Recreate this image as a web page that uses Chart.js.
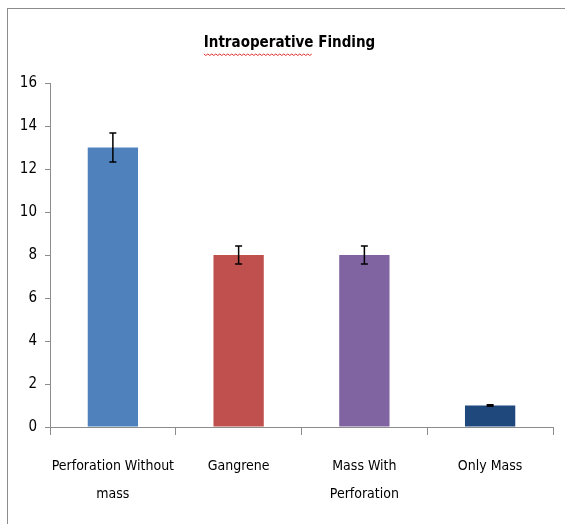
<!DOCTYPE html>
<html>
<head>
  <title>Intraoperative Finding</title>
  <script src="https://cdn.jsdelivr.net/npm/chart.js"></script>
  <style>
    html, body { margin: 0; padding: 0; background: #fff; overflow: hidden; }
    .frame { position: absolute; left: 7px; top: 8px; width: 600px; height: 600px;
             border-left: 1px solid #8c8c8c; border-top: 1px solid #8c8c8c; }
    .chart-box { position: absolute; left: 0; top: 0; width: 565px; height: 524px; }
  </style>
</head>
<body>
  <div class="frame"></div>
  <div class="chart-box">
    <canvas id="findingChart" width="565" height="524"></canvas>
  </div>
  <script>
    // data
    const categories = [['Perforation Without', 'mass'], 'Gangrene', ['Mass With', 'Perforation'], 'Only Mass'];
    const counts = [13, 8, 8, 1];
    const errors = [0.68, 0.42, 0.42, 0.04];
    const barColors = ['#4F81BD', '#C0504D', '#8064A2', '#1F497D'];
    const yTicks = [0, 2, 4, 6, 8, 10, 12, 14, 16];
    const titleText = 'Intraoperative Finding';

    const fontFamily = '"Liberation Sans Narrow", "DejaVu Sans Condensed", sans-serif';
    const titleFont = { family: fontFamily, size: 15, weight: 'bold', lineHeight: 1.2 };

    // simple error bar drawing
    const errorBars = {
      id: 'errorBars',
      afterDatasetsDraw(chart) {
        const ctx = chart.ctx;
        const y = chart.scales.y;
        const meta = chart.getDatasetMeta(0);
        ctx.save();
        ctx.strokeStyle = '#000';
        ctx.lineWidth = 1.5;
        meta.data.forEach((bar, i) => {
          const top = y.getPixelForValue(counts[i] + errors[i]);
          const bot = y.getPixelForValue(counts[i] - errors[i]);
          ctx.beginPath();
          ctx.moveTo(bar.x, top);
          ctx.lineTo(bar.x, bot);
          ctx.moveTo(bar.x - 3.5, top);
          ctx.lineTo(bar.x + 3.5, top);
          ctx.moveTo(bar.x - 3.5, bot);
          ctx.lineTo(bar.x + 3.5, bot);
          ctx.stroke();
        });
        ctx.restore();
      }
    };

    // title sits a bit right of the canvas centre in the original
    const titleShift = {
      id: 'titleShift',
      afterLayout(chart) {
        if (chart.titleBlock) chart.titleBlock.left += 26;
      }
    };

    // red spell-check squiggle under the first word of the title
    const squiggle = {
      id: 'squiggle',
      afterDraw(chart) {
        const t = chart.titleBlock;
        if (!t) return;
        const ctx = chart.ctx;
        ctx.save();
        ctx.font = `${titleFont.weight} ${titleFont.size}px ${titleFont.family}`;
        const full = ctx.measureText(titleText).width;
        const word = ctx.measureText(titleText.split(' ')[0]).width;
        const x0 = (t.left + t.right) / 2 - full / 2;
        const yLine = t.top + t.height - 29;
        ctx.strokeStyle = '#e03030';
        ctx.lineWidth = 1;
        ctx.beginPath();
        for (let x = 0; x <= word; x += 2) {
          const yy = yLine + ((x / 2) % 2 === 0 ? 0 : 1.5);
          if (x === 0) ctx.moveTo(x0 + x, yy); else ctx.lineTo(x0 + x, yy);
        }
        ctx.stroke();
        ctx.restore();
      }
    };

    new Chart(document.getElementById('findingChart'), {
      type: 'bar',
      data: {
        labels: categories,
        datasets: [{
          data: counts,
          backgroundColor: barColors,
          borderWidth: 0,
          categoryPercentage: 1,
          barPercentage: 0.4
        }]
      },
      options: {
        responsive: false,
        animation: false,
        layout: { padding: { left: 0, right: 12, top: 0, bottom: 0 } },
        plugins: {
          legend: { display: false },
          tooltip: { enabled: false },
          title: {
            display: true,
            text: titleText,
            color: '#000',
            font: titleFont,
            padding: { top: 34, bottom: 31 }
          }
        },
        scales: {
          x: {
            afterFit(axis) { axis.height = 97; },
            grid: { display: true, drawOnChartArea: false, offset: true, tickLength: 8, color: '#8c8c8c' },
            border: { color: '#8c8c8c', width: 1 },
            ticks: {
              color: '#000',
              font: { family: fontFamily, size: 14, lineHeight: 2 },
              padding: 17,
              maxRotation: 0,
              autoSkip: false
            }
          },
          y: {
            min: 0,
            max: 16,
            afterBuildTicks(axis) { axis.ticks = yTicks.map(v => ({ value: v })); },
            afterFit(axis) { axis.width = 50; },
            grid: { display: true, drawOnChartArea: false, tickLength: 5, color: '#8c8c8c' },
            border: { color: '#8c8c8c', width: 1 },
            ticks: {
              color: '#000',
              font: { family: fontFamily, size: 15 },
              padding: 8
            }
          }
        }
      },
      plugins: [titleShift, errorBars, squiggle]
    });
  </script>
</body>
</html>
